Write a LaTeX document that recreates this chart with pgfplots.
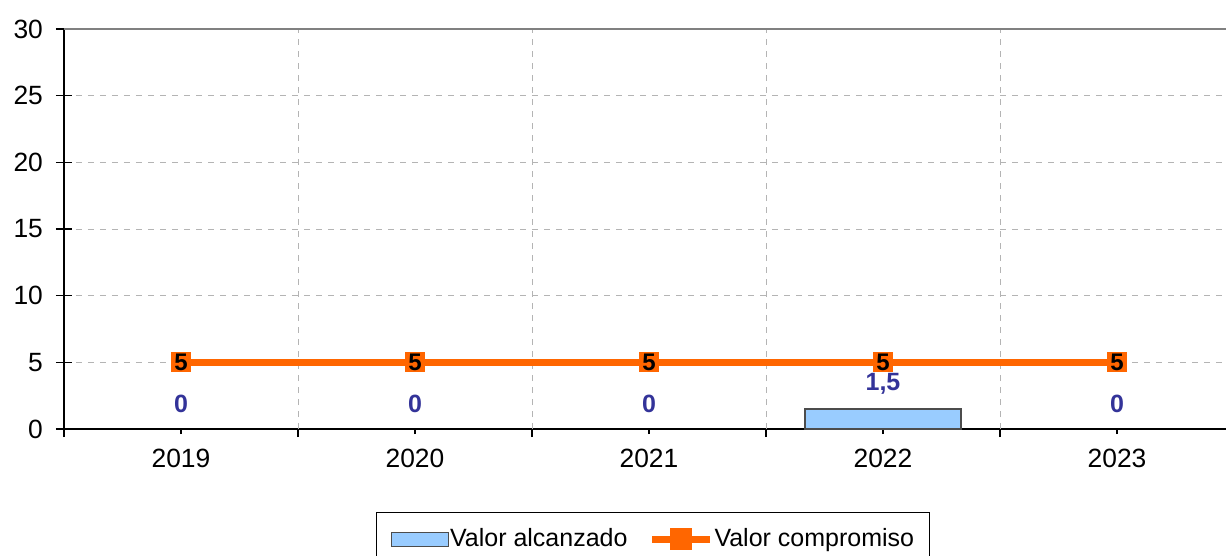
\documentclass[border=0pt]{standalone}
\usepackage{pgfplots}
\pgfplotsset{compat=1.18}
\usepackage{fontspec}
\setmainfont{Liberation Sans}
\definecolor{barfill}{HTML}{99CCFF}
\definecolor{orangeline}{HTML}{FF6600}
\definecolor{lblblue}{HTML}{333399}
\definecolor{gridgray}{HTML}{B4B4B4}
\begin{document}
\begin{tikzpicture}
\useasboundingbox (-32pt,-63.5pt) rectangle (581pt,214.5pt);
\begin{axis}[
  at={(0,0)}, anchor=south west,
  scale only axis, width=585pt, height=200pt,
  xmin=-0.5, xmax=4.5, ymin=0, ymax=30,
  axis x line=bottom, axis y line=left,
  axis line style={-, black, line width=0.8pt},
  /pgf/number format/assume math mode=true,
  /pgf/number format/use comma,
  ytick={0,5,...,30},
  ymajorgrids, grid style={gridgray, dashed, line width=0.5pt},
  xtick={0,1,2,3,4},
  xticklabels={2019,2020,2021,2022,2023},
  minor xtick={-0.5,4.5},
  minor tick length=4pt,
  tick align=outside,
  major tick length=2.5pt,
  xtick style={black, line width=0.6pt},
  minor x tick style={black, line width=0.6pt},
  ytick style={black, line width=0.6pt, /pgfplots/major tick length=8pt, xshift=4pt},
  extra x ticks={0.5,1.5,2.5,3.5},
  extra x tick labels={},
  extra x tick style={grid=major, /pgfplots/major tick length=4pt},
  tick label style={font=\fontsize{13.2}{16}\selectfont},
  yticklabel style={anchor=east, xshift=-4.5pt},
  xticklabel style={yshift=-4pt},
  clip=false,
  legend style={at={(axis description cs:0.5,0)}, anchor=north, yshift=-41.5pt, xshift=2pt,
    draw=black, line width=0.6pt, font=\fontsize{12.5}{15}\selectfont,
    legend columns=2, inner xsep=7pt, inner ysep=6pt,
    nodes={inner xsep=0.5pt},
    /tikz/every even column/.append style={column sep=10pt}},
  legend cell align=left,
]
\addplot[ybar, bar width=78pt, fill=barfill, draw=gray!60!black, line width=0.6pt,
  legend image code/.code={\draw[fill=barfill, draw=gray!60!black, line width=0.6pt] (0pt,-3.5pt) rectangle (28.5pt,3.5pt);}]
  coordinates {(3,1.5)};
\addlegendentry{Valor alcanzado}
\addplot[orangeline, line width=3.5pt, mark=square*, mark size=4.75pt, mark options={solid, line width=0pt},
  nodes near coords,
  every node near coord/.append style={font=\bfseries\fontsize{12}{14}\selectfont, text=black, anchor=center},
  legend image code/.code={\draw[orangeline, line width=3.5pt] (0pt,0pt) -- (29pt,0pt); \fill[orangeline] (10.75pt,-3.75pt) rectangle (18.25pt,3.75pt);}]
  coordinates {(0,5) (1,5) (2,5) (3,5) (4,5)};
\addlegendentry{Valor compromiso}
\addplot[draw=none, mark=none, forget plot,
  nodes near coords,
  every node near coord/.append style={font=\bfseries\fontsize{12.5}{14}\selectfont, text=lblblue, anchor=center, yshift=12.5pt}]
  coordinates {(0,0) (1,0) (2,0) (3,1.5) (4,0)};
\draw[gray, line width=1pt] (rel axis cs:0,1) -- (rel axis cs:1,1);
\end{axis}
\end{tikzpicture}
\end{document}
